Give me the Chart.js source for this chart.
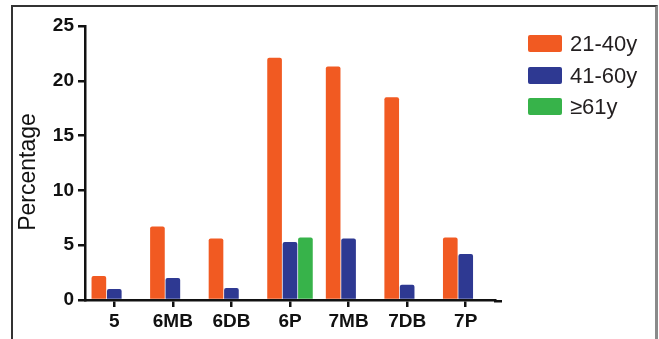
<!DOCTYPE html>
<html>
<head>
<meta charset="utf-8">
<script src="https://cdn.jsdelivr.net/npm/chart.js"></script>
<style>
  html, body { margin: 0; padding: 0; background: #fff; overflow: hidden; }
  #wrap { position: relative; width: 659px; height: 339px; }
  #frame { position: absolute; left: 11px; top: 5px; width: 642px; height: 400px;
           border-left: 2px solid #333; border-top: 2px solid #333; border-right: 3px solid #8a8a8a; }
  canvas { position: absolute; left: 0; top: 0; }
  .legend { position: absolute; left: 528px; top: 35px; font-family: "Liberation Sans", Arial, sans-serif;
            font-size: 22px; color: #231f20; }
  .legend div { position: relative; height: 31.5px; }
  .legend span.box { position: absolute; left: 0; top: 0; width: 34px; height: 17px; border-radius: 2px; }
  .legend span.txt { position: absolute; left: 42px; top: -4px; line-height: 25px; white-space: nowrap; }
</style>
</head>
<body>
<div id="wrap">
  <div id="frame"></div>
  <canvas id="chart" width="659" height="339"></canvas>
  <div class="legend" id="legend"></div>
</div>
<script>
  const categories = ['5', '6MB', '6DB', '6P', '7MB', '7DB', '7P'];
  const seriesNames = ['21-40y', '41-60y', '\u226561y'];
  const age21to40 = [2.2, 6.7, 5.6, 22.1, 21.3, 18.5, 5.7];
  const age41to60 = [1.0, 2.0, 1.1, 5.3, 5.6, 1.4, 4.2];
  const age61plus = [0, 0, 0, 5.7, 0, 0, 0];
  const yTicks = [0, 5, 10, 15, 20, 25];
  const colors = ['#f15a22', '#2e3992', '#37b34a'];

  const font = '"Liberation Sans", Arial, sans-serif';
  const ink = '#111';

  // y title drawn by hand so it can sit where the original has it
  const yTitle = {
    id: 'yTitle',
    afterDraw(chart) {
      const ctx = chart.ctx;
      ctx.save();
      ctx.translate(29, 172);
      ctx.rotate(-Math.PI / 2);
      ctx.font = '23px ' + font;
      ctx.fillStyle = ink;
      ctx.textAlign = 'center';
      ctx.textBaseline = 'middle';
      ctx.fillText('Percentage', 0, 0);
      ctx.restore();
      // small overhang of the x axis past the last category
      const a = chart.chartArea;
      ctx.save();
      ctx.strokeStyle = ink;
      ctx.lineWidth = 2.5;
      ctx.beginPath();
      ctx.moveTo(a.right - 1, a.bottom + 1.25);
      ctx.lineTo(a.right + 7, a.bottom + 1.25);
      ctx.stroke();
      ctx.restore();
    }
  };

  const data = [age21to40, age41to60, age61plus];
  new Chart(document.getElementById('chart'), {
    type: 'bar',
    data: {
      labels: categories,
      datasets: data.map((d, i) => ({
        label: seriesNames[i],
        data: d,
        backgroundColor: colors[i],
        borderRadius: { topLeft: 2, topRight: 2 },
        borderSkipped: 'bottom',
        barPercentage: 0.95,
        categoryPercentage: 0.79
      }))
    },
    options: {
      responsive: false,
      devicePixelRatio: 1,
      animation: false,
      layout: { padding: { top: 26, right: 164, bottom: 0, left: 0 } },
      plugins: { legend: { display: false }, tooltip: { enabled: false } },
      scales: {
        x: {
          grid: { display: true, offset: false, drawOnChartArea: false, drawTicks: true, tickLength: 7, color: ink, lineWidth: 2.5 },
          border: { display: true, color: ink, width: 2.5 },
          ticks: { color: ink, font: { family: font, size: 19, weight: 'bold' }, padding: 3, maxRotation: 0 },
          afterFit(s) { s.height = 39; }
        },
        y: {
          min: 0, max: 25,
          afterBuildTicks(s) { s.ticks = yTicks.map(v => ({ value: v })); },
          grid: { display: true, drawOnChartArea: false, drawTicks: true, tickLength: 7, color: ink, lineWidth: 2.5 },
          border: { display: true, color: ink, width: 2.5 },
          ticks: { color: ink, font: { family: font, size: 19, weight: 'bold' }, padding: 4 },
          afterFit(s) { s.width = 85; }
        }
      }
    },
    plugins: [yTitle]
  });

  const lg = document.getElementById('legend');
  seriesNames.forEach((n, i) => {
    const row = document.createElement('div');
    row.innerHTML = '<span class="box" style="background:' + colors[i] + '"></span><span class="txt">' + n + '</span>';
    lg.appendChild(row);
  });
</script>
</body>
</html>
